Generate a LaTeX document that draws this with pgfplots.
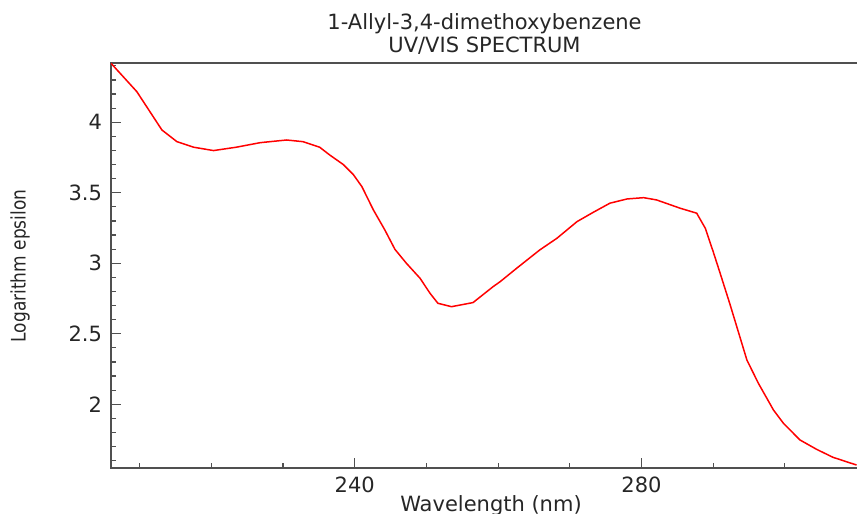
\documentclass[border=0pt]{standalone}
\usepackage{pgfplots}
\pgfplotsset{compat=1.18}
\usepackage{fontspec}
\setmainfont{DejaVu Sans}
\newfontfamily\condfont[FakeStretch=0.85]{DejaVu Sans}
\definecolor{axgray}{RGB}{80,80,80}
\pgfplotstableread{
wl lg
206.0 4.418
209.6 4.217
213.1 3.945
215.2 3.862
217.5 3.823
220.3 3.799
223.5 3.823
226.8 3.855
230.5 3.874
232.8 3.862
235.1 3.823
236.5 3.768
238.4 3.700
239.8 3.629
241.0 3.543
242.6 3.378
244.2 3.236
245.6 3.099
247.2 3.000
249.1 2.894
250.5 2.787
251.6 2.716
253.5 2.692
256.5 2.721
259.3 2.834
260.3 2.870
262.6 2.965
265.8 3.094
268.2 3.177
271.0 3.295
273.3 3.362
275.6 3.426
278.0 3.456
280.3 3.465
282.1 3.449
285.4 3.390
287.7 3.355
288.9 3.248
290.0 3.082
290.9 2.940
292.3 2.716
293.5 2.515
294.7 2.314
296.3 2.149
298.4 1.960
299.8 1.865
302.1 1.747
304.4 1.681
306.7 1.624
310.0 1.569
}\spectrum
\begin{document}
\begin{tikzpicture}
\begin{axis}[
  at={(55.5pt,23pt)}, anchor=south west,
  scale only axis, width=373.5pt, height=202.5pt,
  xmin=206, xmax=310.2, ymin=1.548, ymax=4.42,
  xtick={240,280}, minor xtick={210,220,230,250,260,270,290,300},
  ytick={2,2.5,3,3.5,4}, minor ytick={1.6,1.7,1.8,1.9,2.1,2.2,2.3,2.4,2.6,2.7,2.8,2.9,3.1,3.2,3.3,3.4,3.6,3.7,3.8,3.9,4.1,4.2,4.3,4.4},
  xtick pos=bottom, ytick pos=left, tick align=inside,
  major tick length=5pt, minor tick length=2.5pt,
  every tick/.style={axgray, line width=0.6pt},
  axis line style={axgray, line width=0.7pt},
  /pgf/number format/assume math mode=true,
  ticklabel style={font=\fontsize{10.5}{12}\selectfont, text=black!85},
  xticklabel style={yshift=-1pt},
  yticklabel style={xshift=-1pt},
  yticklabel={\pgfmathprintnumber[fixed,precision=1]{\tick}},
]
\addplot[red, line width=0.75pt] table[x=wl, y=lg] {\spectrum};
\end{axis}
\node[anchor=base, font=\fontsize{10.5}{12}\selectfont, text=black!85] at (242.25pt,242pt) {1-Allyl-3,4-dimethoxybenzene};
\node[anchor=base, font=\fontsize{10.5}{12}\selectfont, text=black!85] at (242.25pt,230.5pt) {UV/VIS SPECTRUM};
\node[anchor=base, font=\fontsize{10.5}{12}\selectfont, text=black!85] at (245.5pt,1.5pt) {Wavelength (nm)};
\node[rotate=90, font=\fontsize{10}{12}\condfont, text=black!85] at (10pt,124pt) {Logarithm epsilon};
\pgfresetboundingbox
\path[use as bounding box] (0,0) rectangle (428.5pt,257pt);
\end{tikzpicture}
\end{document}
